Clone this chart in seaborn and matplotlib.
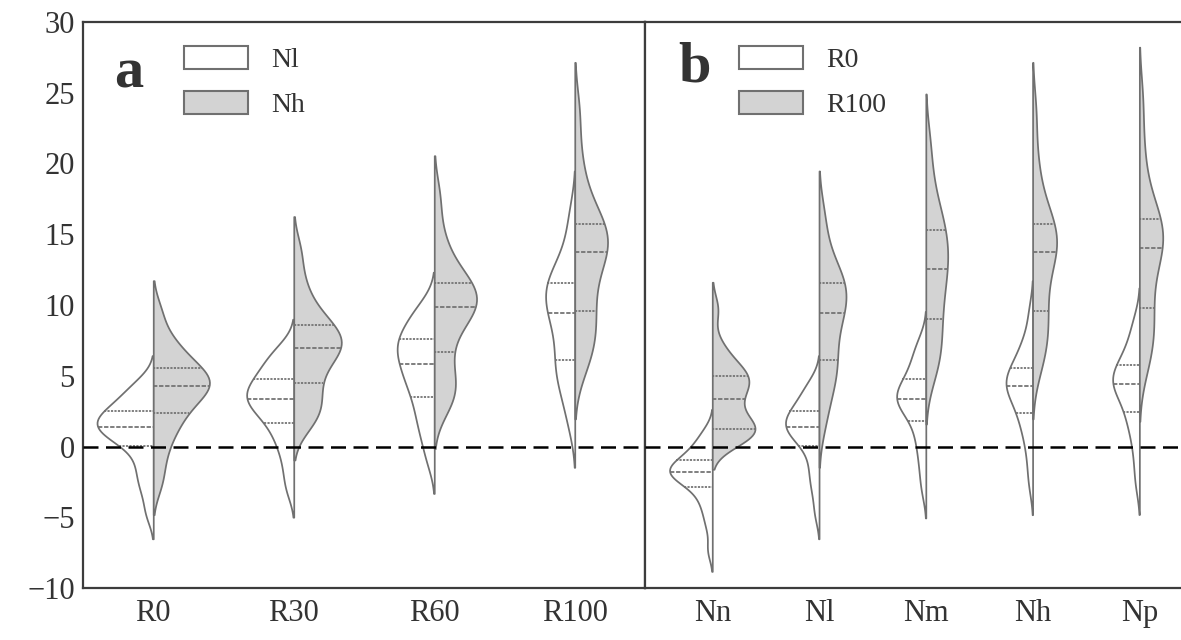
import numpy as np
import pandas as pd
import matplotlib
matplotlib.use("Agg")
import matplotlib.pyplot as plt
from matplotlib.patches import Patch
import seaborn as sns

# ---------------- data ----------------
r_levels = ["R0", "R30", "R60", "R100"]
n_levels = ["Nn", "Nl", "Nm", "Nh", "Np"]
n_pair = ["Nl", "Nh"]
r_pair = ["R0", "R100"]

R0_Nn = [-7.3, -5.6, -4.6, -3.9, -3.3, -2.84, -2.5, -2.25, -2.05, -1.95, -1.83,
         -1.7, -1.55, -1.4, -1.2, -0.95, -0.7, -0.4, 0.0, 0.5, 1.1]
R0_Nl = [-4.7, -3.2, -2.3, -1.5, -0.7, 0.05, 0.45, 0.75, 1.0, 1.2, 1.4,
         1.6, 1.8, 2.0, 2.25, 2.5, 2.8, 3.15, 3.6, 4.1, 4.6]
R0_Nm = [-3.0, -1.6, -0.5, 0.4, 1.1, 1.8, 2.35, 2.7, 3.0, 3.2, 3.36,
         3.55, 3.8, 4.0, 4.35, 4.75, 5.1, 5.6, 6.2, 6.8, 7.5]
R0_Nh = [-2.6, -1.0, 0.3, 1.1, 1.8, 2.35, 2.85, 3.3, 3.7, 4.0, 4.27,
         4.5, 4.7, 4.9, 5.2, 5.57, 6.0, 6.5, 7.1, 7.8, 9.5]
R0_Np = [-2.6, -1.0, 0.3, 1.2, 1.9, 2.41, 3.0, 3.5, 3.9, 4.2, 4.42,
         4.65, 4.85, 5.1, 5.4, 5.76, 6.1, 6.6, 7.2, 8.0, 9.0]
R30_Nl = [-3.0, -1.6, -0.4, 0.4, 1.1, 1.64, 2.15, 2.55, 2.85, 3.1, 3.36,
          3.6, 3.85, 4.1, 4.4, 4.77, 5.1, 5.5, 6.0, 6.5, 7.0]
R30_Nh = [1.5, 2.0, 2.6, 3.2, 3.8, 4.47, 5.2, 5.8, 6.3, 6.7, 6.98,
          7.25, 7.5, 7.8, 8.15, 8.59, 9.0, 9.6, 10.5, 11.8, 13.8]
R60_Nl = [-1.0, 0.4, 1.3, 2.1, 2.8, 3.48, 4.1, 4.6, 5.0, 5.4, 5.83,
          6.3, 6.65, 6.95, 7.25, 7.6, 7.95, 8.35, 8.9, 9.5, 10.0]
R60_Nh = [2.8, 3.4, 4.0, 4.7, 5.6, 6.7, 7.8, 8.6, 9.15, 9.55, 9.88,
          10.2, 10.5, 10.8, 11.15, 11.53, 11.95, 12.6, 13.6, 15.0, 17.6]
R100_Nn = [0.3, 0.55, 0.75, 0.95, 1.1, 1.24, 1.55, 1.9, 2.3, 2.85, 3.36,
           3.8, 4.2, 4.5, 4.75, 5.0, 5.3, 5.7, 6.3, 7.2, 9.7]
R100_Nl = [1.5, 3.1, 4.1, 4.9, 5.5, 6.11, 6.8, 7.6, 8.4, 9.0, 9.41,
           9.9, 10.4, 10.8, 11.2, 11.58, 12.0, 12.5, 13.3, 14.6, 16.5]
R100_Nm = [5.0, 5.8, 6.6, 7.4, 8.2, 8.99, 9.8, 10.6, 11.3, 11.9, 12.52,
           13.1, 13.6, 14.1, 14.7, 15.3, 15.9, 16.6, 17.6, 19.2, 21.5]
R100_Nh = [5.5, 6.5, 7.3, 8.1, 8.9, 9.6, 10.6, 11.5, 12.4, 13.1, 13.72,
           14.1, 14.45, 14.8, 15.2, 15.72, 16.3, 17.1, 18.4, 20.4, 23.6]
R100_Np = [5.5, 6.5, 7.4, 8.2, 9.0, 9.76, 10.9, 11.9, 12.8, 13.5, 14.0,
           14.4, 14.8, 15.2, 15.6, 16.1, 16.7, 17.5, 19.0, 21.3, 24.5]

groups = {
    ("R0", "Nn"): R0_Nn, ("R0", "Nl"): R0_Nl, ("R0", "Nm"): R0_Nm,
    ("R0", "Nh"): R0_Nh, ("R0", "Np"): R0_Np,
    ("R30", "Nl"): R30_Nl, ("R30", "Nh"): R30_Nh,
    ("R60", "Nl"): R60_Nl, ("R60", "Nh"): R60_Nh,
    ("R100", "Nn"): R100_Nn, ("R100", "Nl"): R100_Nl, ("R100", "Nm"): R100_Nm,
    ("R100", "Nh"): R100_Nh, ("R100", "Np"): R100_Np,
}

rows = []
for (r, n), vals in groups.items():
    for v in vals:
        rows.append({"R": r, "N": n, "value": v})
df = pd.DataFrame(rows)
df_a = df[df["N"].isin(n_pair)]
df_b = df[df["R"].isin(r_pair)]

# ---------------- style ----------------
sns.set_theme(style="white")
plt.rcParams["font.family"] = ["Liberation Serif", "DejaVu Serif"]

W, H = 1181, 640
fig = plt.figure(figsize=(W / 100, H / 100), dpi=100)
left_a, right_a, right_b = 83 / W, 645 / W, 1.0
bottom, top = 1 - 588 / H, 1 - 22 / H
ax_a = fig.add_axes([left_a, bottom, right_a - left_a, top - bottom])
ax_b = fig.add_axes([right_a, bottom, right_b - right_a, top - bottom])

edge = "#707070"
fill_light = "#ffffff"
fill_dark = "#d3d3d3"
common = dict(split=True, inner="quart", density_norm="area", cut=2,
              bw_adjust=0.7, linewidth=1.25, linecolor=edge, width=0.8,
              gap=0, legend=False, saturation=1)

sns.violinplot(data=df_a, x="R", y="value", hue="N", order=r_levels,
               hue_order=n_pair, palette=[fill_light, fill_dark], ax=ax_a,
               **common)
sns.violinplot(data=df_b, x="N", y="value", hue="R", order=n_levels,
               hue_order=r_pair, palette=[fill_light, fill_dark], ax=ax_b,
               **common)

spine_c = "#3c3c3c"
for ax in (ax_a, ax_b):
    ax.set_ylim(-10, 30)
    ax.axhline(0, color="black", lw=1.8, ls=(0, (6, 3)), zorder=5)
    ax.set_xlabel("")
    ax.set_ylabel("")
    ax.tick_params(axis="both", length=0, labelsize=22, colors="#333333",
                   pad=8)
    for s in ax.spines.values():
        s.set_color(spine_c)
        s.set_linewidth(1.6)

ax_a.set_xlim(-0.5, 3.5)
ax_b.set_xlim(-0.63, 4.39)
ax_a.set_yticks(np.arange(-10, 31, 5))
ax_b.set_yticks([])
ax_b.spines["right"].set_visible(False)
ax_a.tick_params(axis="y", pad=6)

# panel letters
ax_a.text(0.055, 0.955, "a", transform=ax_a.transAxes, fontsize=42,
          fontweight="bold", va="top", ha="left", color="#333333")
ax_b.text(0.062, 0.965, "b", transform=ax_b.transAxes, fontsize=42,
          fontweight="bold", va="top", ha="left", color="#333333")

def add_legend(ax, labels, anchor):
    handles = [Patch(facecolor=fill_light, edgecolor=edge, lw=1.5, label=labels[0]),
               Patch(facecolor=fill_dark, edgecolor=edge, lw=1.5, label=labels[1])]
    leg = ax.legend(handles=handles, loc="upper left", bbox_to_anchor=anchor,
                    frameon=False, fontsize=20, handlelength=2.3,
                    handleheight=0.9, labelspacing=0.64, handletextpad=0.85,
                    borderaxespad=0)
    for t in leg.get_texts():
        t.set_color("#333333")

add_legend(ax_a, n_pair, (0.16, 0.977))
add_legend(ax_b, r_pair, (0.155, 0.977))

fig.savefig("out.png", dpi=100)
